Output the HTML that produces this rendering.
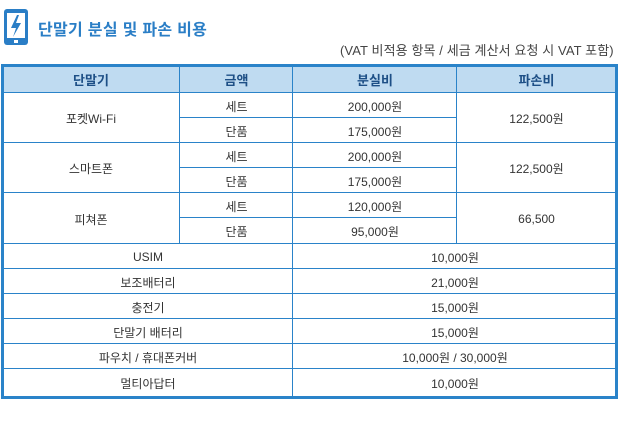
<!DOCTYPE html>
<html><head><meta charset="utf-8"><style>
body{margin:0;width:626px;height:424px;background:#fff;position:relative;overflow:hidden;font-family:"Liberation Sans","Noto Sans CJK KR","NanumGothic",sans-serif;}
.a{position:absolute}
.t{position:absolute;text-align:center;font-size:12px;color:#333;display:flex;align-items:center;justify-content:center}
.h{font-weight:bold;color:#1d4f86;font-size:13px}
.hl{position:absolute;height:1px;background:#2a83c9}
.vl{position:absolute;width:1px;background:#2a83c9}
</style></head><body>
<svg class="a" style="left:4px;top:9px" width="24" height="36" viewBox="0 0 24 36">
<rect x="0" y="0" width="24" height="36" rx="3" fill="#2a7ec6"/>
<rect x="3" y="4" width="18" height="25" fill="#fff"/>
<polygon points="13,6 7,19 12,19 9,28 17,14 12,14 15,6" fill="#2a7ec6"/>
<rect x="10" y="31" width="4" height="3" fill="#fff"/>
</svg>
<div class="a" style="left:38px;top:16px;font-size:16px;color:#2a7ec6;font-weight:bold;letter-spacing:0.3px">단말기 분실 및 파손 비용</div>
<div class="a" style="left:340px;top:40px;width:276px;font-size:13px;color:#444;white-space:nowrap;letter-spacing:0.1px">(VAT 비적용 항목 / 세금 계산서 요청 시 VAT 포함)</div>
<div class="a" style="left:2px;top:65px;width:614px;height:28px;background:#bfdbf1"></div>
<div class="hl" style="left:1px;top:64px;width:617px;height:3px"></div>
<div class="hl" style="left:1px;top:396px;width:617px;height:3px"></div>
<div class="vl" style="left:1px;top:64px;height:335px;width:3px"></div>
<div class="vl" style="left:615px;top:64px;height:335px;width:3px"></div>
<div class="hl" style="left:1px;top:92px;width:617px"></div>
<div class="hl" style="left:179px;top:117px;width:278px"></div>
<div class="hl" style="left:1px;top:142px;width:617px"></div>
<div class="hl" style="left:179px;top:167px;width:278px"></div>
<div class="hl" style="left:1px;top:192px;width:617px"></div>
<div class="hl" style="left:179px;top:217px;width:278px"></div>
<div class="hl" style="left:1px;top:243px;width:617px"></div>
<div class="hl" style="left:1px;top:268px;width:617px"></div>
<div class="hl" style="left:1px;top:293px;width:617px"></div>
<div class="hl" style="left:1px;top:318px;width:617px"></div>
<div class="hl" style="left:1px;top:343px;width:617px"></div>
<div class="hl" style="left:1px;top:368px;width:617px"></div>
<div class="vl" style="left:179px;top:65px;height:179px"></div>
<div class="vl" style="left:292px;top:65px;height:332px"></div>
<div class="vl" style="left:456px;top:65px;height:179px"></div>
<div class="t h" style="left:3px;top:66px;width:176px;height:27px">단말기</div>
<div class="t h" style="left:180px;top:66px;width:113px;height:27px">금액</div>
<div class="t h" style="left:294px;top:66px;width:162px;height:27px">분실비</div>
<div class="t h" style="left:457px;top:66px;width:159px;height:27px">파손비</div>
<div class="t" style="left:3px;top:94px;width:176px;height:49px">포켓Wi-Fi</div>
<div class="t" style="left:3px;top:144px;width:176px;height:49px">스마트폰</div>
<div class="t" style="left:3px;top:194px;width:176px;height:50px">피쳐폰</div>
<div class="t" style="left:180px;top:94px;width:113px;height:24px">세트</div>
<div class="t" style="left:180px;top:119px;width:113px;height:24px">단품</div>
<div class="t" style="left:180px;top:144px;width:113px;height:24px">세트</div>
<div class="t" style="left:180px;top:169px;width:113px;height:24px">단품</div>
<div class="t" style="left:180px;top:194px;width:113px;height:24px">세트</div>
<div class="t" style="left:180px;top:219px;width:113px;height:25px">단품</div>
<div class="t" style="left:294px;top:94px;width:162px;height:24px">200,000원</div>
<div class="t" style="left:294px;top:119px;width:162px;height:24px">175,000원</div>
<div class="t" style="left:294px;top:144px;width:162px;height:24px">200,000원</div>
<div class="t" style="left:294px;top:169px;width:162px;height:24px">175,000원</div>
<div class="t" style="left:294px;top:194px;width:162px;height:24px">120,000원</div>
<div class="t" style="left:294px;top:219px;width:162px;height:25px">95,000원</div>
<div class="t" style="left:457px;top:94px;width:159px;height:49px">122,500원</div>
<div class="t" style="left:457px;top:144px;width:159px;height:49px">122,500원</div>
<div class="t" style="left:457px;top:194px;width:159px;height:50px">66,500</div>
<div class="t" style="left:3px;top:245px;width:290px;height:24px">USIM</div>
<div class="t" style="left:3px;top:270px;width:290px;height:24px">보조배터리</div>
<div class="t" style="left:3px;top:295px;width:290px;height:24px">충전기</div>
<div class="t" style="left:3px;top:320px;width:290px;height:24px">단말기 배터리</div>
<div class="t" style="left:3px;top:345px;width:290px;height:24px">파우치 / 휴대폰커버</div>
<div class="t" style="left:3px;top:370px;width:290px;height:27px">멀티아답터</div>
<div class="t" style="left:294px;top:245px;width:322px;height:24px">10,000원</div>
<div class="t" style="left:294px;top:270px;width:322px;height:24px">21,000원</div>
<div class="t" style="left:294px;top:295px;width:322px;height:24px">15,000원</div>
<div class="t" style="left:294px;top:320px;width:322px;height:24px">15,000원</div>
<div class="t" style="left:294px;top:345px;width:322px;height:24px">10,000원 / 30,000원</div>
<div class="t" style="left:294px;top:370px;width:322px;height:27px">10,000원</div>
</body></html>
